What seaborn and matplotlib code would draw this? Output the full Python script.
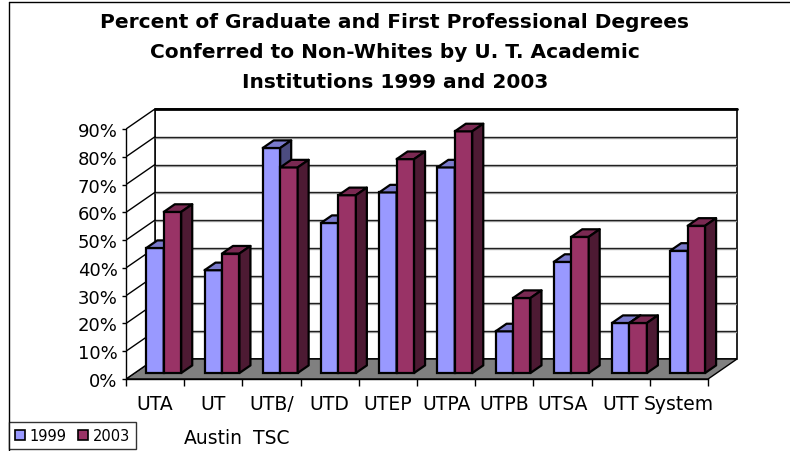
import numpy as np
import pandas as pd
import matplotlib.pyplot as plt
from matplotlib.patches import Polygon, Rectangle
from matplotlib.lines import Line2D
import seaborn as sns

# %%
institutions = ['UTA', 'UT\nAustin', 'UTB/\nTSC', 'UTD', 'UTEP', 'UTPA',
                'UTPB', 'UTSA', 'UTT', 'System']
pct_1999 = [45, 37, 81, 54, 65, 74, 15, 40, 18, 44]
pct_2003 = [58, 43, 74, 64, 77, 87, 27, 49, 18, 53]
years = ['1999', '2003']
yticks = list(range(0, 100, 10))
title_lines = ['Percent of Graduate and First Professional Degrees',
               'Conferred to Non-Whites by U. T. Academic',
               'Institutions 1999 and 2003']

df = pd.DataFrame({
    'inst': institutions * 2,
    'year': [years[0]] * len(institutions) + [years[1]] * len(institutions),
    'pct': pct_1999 + pct_2003,
})

front = {'1999': '#9999FF', '2003': '#993366'}
top = {'1999': '#7A7ACC', '2003': '#7A2952'}
side = {'1999': '#4C4C80', '2003': '#4D1A33'}

# fake 3d depth (in data units)
DX, DY = 0.497, 7.2
F, D = 0.3, 0.38
n = len(institutions)

# %%
sns.set_style('white')
plt.rcParams['font.family'] = ['DejaVu Sans']
plt.rcParams['text.color'] = 'black'
plt.rcParams['xtick.color'] = 'black'
plt.rcParams['ytick.color'] = 'black'
plt.rcParams['xtick.labelcolor'] = 'black'
plt.rcParams['ytick.labelcolor'] = 'black'

fig = plt.figure(figsize=(7.9, 4.52), dpi=100)
ax = fig.add_axes([126/790, 72/452, 611/790, 270/452])

sns.barplot(data=df, x='inst', y='pct', hue='year', palette=front, width=0.6,
            gap=0, saturation=1, edgecolor='black', linewidth=1.6, ax=ax)

handles, labels = ax.get_legend_handles_labels()
if ax.get_legend() is not None:
    ax.get_legend().remove()

# walls and floor
x0, x1 = -0.5, n - 0.5
ymax = yticks[-1]
ax.add_patch(Polygon([(x0, 0), (x1, 0), (x1 + DX, DY), (x0 + DX, DY)],
                     facecolor='#808080', edgecolor='black', lw=1, zorder=0.5))
ax.add_patch(Polygon([(x0, 0), (x0 + DX, DY), (x0 + DX, ymax + DY), (x0, ymax)],
                     facecolor='white', edgecolor='black', lw=1, zorder=0.5))
ax.add_patch(Rectangle((x0 + DX, DY), x1 - x0, ymax, facecolor='white',
                       edgecolor='black', lw=1.2, zorder=0.4, clip_on=False))
for v in yticks[1:-1]:
    ax.plot([x0 + DX, x1 + DX], [v + DY - 0.35, v + DY - 0.35], color='#b0b0b0', lw=1, zorder=0.44)
    ax.plot([x0 + DX, x1 + DX], [v + DY, v + DY], color='#202020', lw=1, zorder=0.45)
    ax.plot([x0, x0 + DX], [v, v + DY], color='black', lw=1, zorder=0.6)
ax.plot([x0 + DX, x1 + DX], [ymax + DY, ymax + DY], color='black', lw=2, zorder=0.6,
        clip_on=False)

# give the bars their depth
bars = []
for cont, yr in zip(ax.containers, years):
    for p in cont.patches:
        bars.append((p, yr))
bars.sort(key=lambda b: b[0].get_x())
sx, sy = D * DX, D * DY
for k, (p, yr) in enumerate(bars):
    z = 2 + k * 0.01
    bx = p.get_x() + F * DX
    by = F * DY
    w, h = p.get_width(), p.get_height()
    p.set_x(bx)
    p.set_y(by)
    p.set_zorder(z)
    yt = by + h
    ax.add_patch(Polygon([(bx, yt), (bx + w, yt), (bx + w + sx, yt + sy), (bx + sx, yt + sy)],
                         facecolor=top[yr], edgecolor='black', lw=1.6, zorder=z,
                         joinstyle='round'))
    ax.add_patch(Polygon([(bx + w, by), (bx + w + sx, by + sy), (bx + w + sx, yt + sy), (bx + w, yt)],
                         facecolor=side[yr], edgecolor='black', lw=1.6, zorder=z,
                         joinstyle='round'))

ax.set_xlim(x0, x1 + DX)
ax.set_ylim(0, ymax + DY)
ax.set_facecolor('none')
ax.set_xlabel('')
ax.set_ylabel('')

ax.set_yticks(yticks)
ax.set_yticklabels([f'{v}%' for v in yticks])
ax.tick_params(axis='y', length=3, width=1, pad=3, labelsize=13, left=True,
               colors='black')
ax.set_xticks(range(n))
ax.set_xticklabels(institutions)
ax.set_xticks(np.arange(x0, x1 + 0.1, 1), minor=True)
ax.tick_params(axis='x', which='major', length=0, pad=11, labelsize=13.5, colors='black')
ax.tick_params(axis='x', which='minor', length=5, width=1, bottom=True, colors='black')
for lab in ax.get_xticklabels():
    lab.set_linespacing(1.95)

for s in ['top', 'right']:
    ax.spines[s].set_visible(False)
ax.spines['left'].set_bounds(0, ymax)
ax.spines['bottom'].set_bounds(x0, x1)
for s in ['left', 'bottom']:
    ax.spines[s].set_color('black')
    ax.spines[s].set_linewidth(1)
    ax.spines[s].set_zorder(1)

# title
for i, line in enumerate(title_lines):
    fig.text(0.5, 1 - (22 + 30.5 * i) / 452, line, ha='center', va='center',
             fontsize=14.5, fontweight='bold', color='black')

# outer border
fig.add_artist(Line2D([9/790, 9/790], [0, 1 - 3/452], color='black', lw=1,
                      transform=fig.transFigure))
fig.add_artist(Line2D([9/790, 1], [1 - 3/452, 1 - 3/452], color='black', lw=1,
                      transform=fig.transFigure))

leg = fig.legend(handles, labels, loc='upper left', bbox_to_anchor=(9/790, 1 - 423/452),
                 ncol=2, fontsize=10.5, frameon=True, fancybox=False, borderaxespad=0,
                 handlelength=0.7, handleheight=0.7, handletextpad=0.3,
                 columnspacing=0.8, borderpad=0.4)
leg.get_frame().set_edgecolor('black')
leg.get_frame().set_linewidth(1)
for hd in leg.legend_handles:
    hd.set_edgecolor('black')
    hd.set_linewidth(1.2)

fig.savefig('out.png', dpi=100)
